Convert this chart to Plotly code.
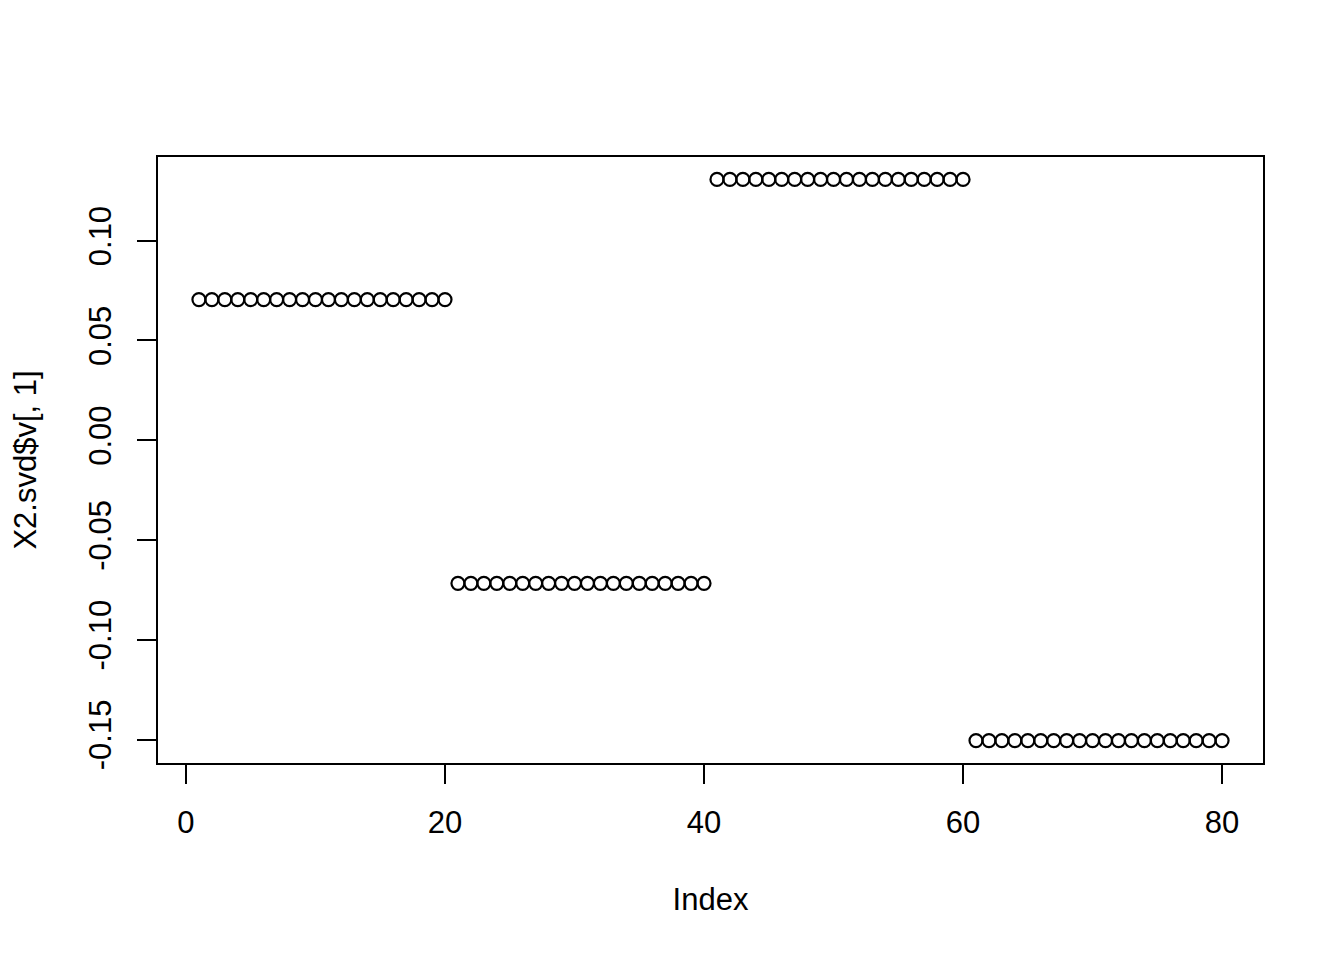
import plotly.graph_objects as go

# Data: first right singular vector, four blocks of 20 values
index = list(range(1, 81))
block_values = [0.0705, -0.0717, 0.1307, -0.1505]
values = [v for v in block_values for _ in range(20)]

x_ticks = [0, 20, 40, 60, 80]
y_ticks = [-0.15, -0.10, -0.05, 0.00, 0.05, 0.10]
y_ticktext = ["-0.15", "-0.10", "-0.05", "0.00", "0.05", "0.10"]

def r_range(vals):
    lo, hi = min(vals), max(vals)
    d = hi - lo
    return [lo - 0.04 * d, hi + 0.04 * d]

FONT = "Liberation Sans, Arial, Helvetica, sans-serif"
FS = 31

fig = go.Figure()
fig.add_trace(go.Scatter(
    x=index, y=values, mode="markers",
    marker=dict(symbol="circle-open", size=13, color="black", line=dict(width=2.2, color="black")),
    showlegend=False, hoverinfo="x+y",
))

fig.update_layout(
    width=1328, height=944,
    margin=dict(l=150, r=73, t=149, b=189),
    paper_bgcolor="white", plot_bgcolor="white",
    font=dict(family=FONT, size=FS, color="black"),
)
fig.update_xaxes(
    range=r_range(index), tickvals=x_ticks, ticktext=[str(t) for t in x_ticks],
    showgrid=False, zeroline=False,
    showline=True, mirror=True, linecolor="black", linewidth=2,
    ticks="outside", ticklen=19, tickwidth=2, tickcolor="black",
    ticklabelstandoff=12,
    tickfont=dict(size=FS, family=FONT, color="black"),
    title=dict(text="Index", font=dict(size=FS, family=FONT, color="black"), standoff=49),
)
fig.update_yaxes(
    range=r_range(values), tickvals=y_ticks, ticktext=y_ticktext,
    showgrid=False, zeroline=False,
    showline=True, mirror=True, linecolor="black", linewidth=2,
    ticks="outside", ticklen=19, tickwidth=2, tickcolor="black",
    tickangle=-90, ticklabelstandoff=14,
    tickfont=dict(size=FS, family=FONT, color="black"),
    title=dict(text="X2.svd$v[, 1]", font=dict(size=FS, family=FONT, color="black"), standoff=39),
)

fig.write_html("out.html")
